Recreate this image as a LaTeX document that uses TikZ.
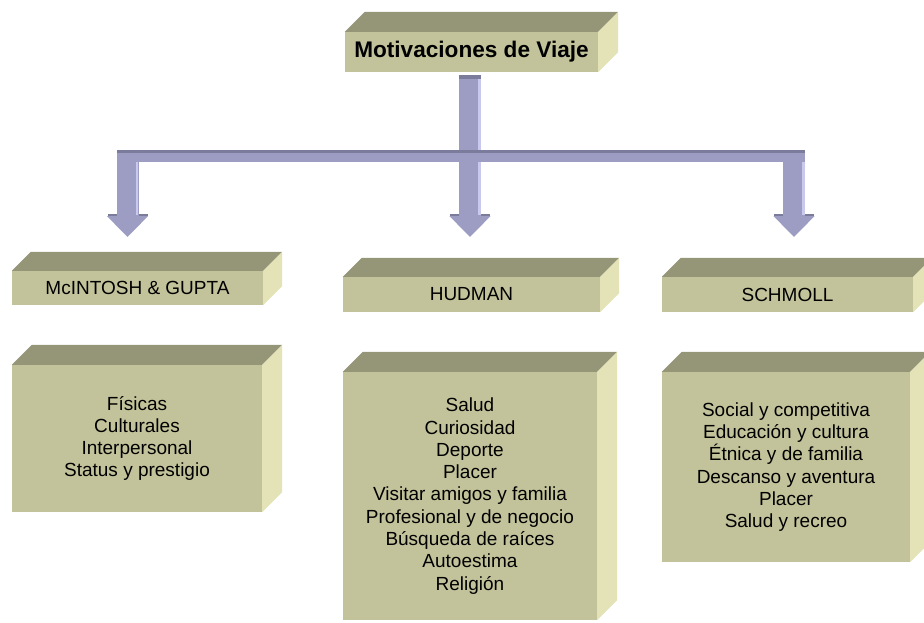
\documentclass[tikz,border=0pt]{standalone}
\usepackage{fontspec}
\setmainfont{Liberation Sans}
\usepackage{tikz}
\usetikzlibrary{calc,arrows.meta}
\definecolor{olivafrente}{HTML}{C3C39B}
\definecolor{olivatapa}{HTML}{959578}
\definecolor{olivalado}{HTML}{E3E3B7}
\definecolor{lila}{HTML}{9D9DC3}
\definecolor{lilaosc}{HTML}{7B7B9C}
\definecolor{lilaclaro}{HTML}{C9C9F0}
\tikzset{caja/.style={
  fill=olivafrente,
  rectangle,
  inner sep=0pt,
  align=center,
  font=\fontsize{19}{22.3}\selectfont}}
\tikzset{tapa/.style={
  fill=olivatapa}}
\tikzset{lado/.style={
  fill=olivalado}}

\begin{document}
\begin{tikzpicture}[
  x=1pt,y=-1pt,
  tallo/.style={
    draw=lila,
    line width=22pt},
  barra/.style={
    draw=lila,
    line width=12pt},
  flecha/.style={
    draw=lila,
    line width=22pt,
    -{Triangle[width=40pt,length=21pt]}}
]
  \useasboundingbox (0,0) rectangle (924,623);

  %%%% Boxes %%%%
  \node[caja,minimum width=253pt,minimum height=40pt,
    font=\fontsize{22.6}{26}\selectfont\bfseries] (titulo) at (471.5,52) {Motivaciones de Viaje};

  %% Headers
  \node[caja,minimum width=251pt,minimum height=34pt] (mcintosh) at (137.5,288) {McINTOSH \& GUPTA};
  \node[caja,minimum width=257pt,minimum height=35pt] (hudman) at (471.5,294.5) {HUDMAN};
  \node[caja,minimum width=251pt,minimum height=35pt] (schmoll) at (787.5,294.5) {SCHMOLL};

  %% Lists
  \node[caja,minimum width=250pt,minimum height=147pt] (lista1) at (137,438.5)
    {Físicas\\Culturales\\Interpersonal\\Status y prestigio};
  \node[caja,minimum width=254pt,minimum height=248pt] (lista2) at (470,496)
    {Salud\\Curiosidad\\Deporte\\Placer\\Visitar amigos y familia\\Profesional y de negocio\\Búsqueda de raíces\\Autoestima\\Religión};
  \node[caja,minimum width=248pt,minimum height=190pt] (lista3) at (786,467)
    {Social y competitiva\\Educación y cultura\\Étnica y de familia\\Descanso y aventura\\Placer\\Salud y recreo};

  %% Top and side faces
  \foreach \n/\d in {titulo/20,mcintosh/19,hudman/19,schmoll/19,lista1/20,lista2/20,lista3/20}{
    \fill[tapa] (\n.north west) -- ++(\d,-\d) -- ($(\n.north east)+(\d,-\d)$) -- (\n.north east) -- cycle;
    \fill[lado] (\n.north east) -- ++(\d,-\d) -- ($(\n.south east)+(\d,-\d)$) -- (\n.south east) -- cycle;
  }

  %%%% Arrows %%%%
  \coordinate (arranque) at (470,75);
  \coordinate (cruce) at (470,156);
  \coordinate (barra-izq) at (117,156);
  \coordinate (barra-der) at (805,156);
  \foreach \i/\x in {1/127.5,2/470,3/794}{
    \coordinate (codo-\i) at (\x,150);
    \coordinate (punta-\i) at (\x,237);
  }

  \draw[tallo] (arranque) -- (cruce);
  %% Dark rim of the heads
  \foreach \i in {1,2,3}{
    \fill[lilaosc] ($(punta-\i)+(-20,-23)$) rectangle ($(punta-\i)+(20,-21)$);
  }
  \draw[barra] (barra-izq) -- (barra-der);
  \foreach \i in {1,2,3}{
    \draw[flecha] (codo-\i) -- (punta-\i);
  }
  %% Bevels
  \fill[lilaosc] ($(barra-izq)+(0,-6)$) rectangle ($(barra-der)+(0,-3)$);
  \fill[lilaosc] ($(arranque)+(-11,0)$) rectangle ($(arranque)+(11,4)$);
  \foreach \i in {1,2,3}{
    \draw[lilaclaro,line width=2.5pt] ($(codo-\i)+(9.5,12)$) -- ($(punta-\i)+(9.5,-22)$);
  }
  \draw[lilaclaro,line width=2.5pt] ($(arranque)+(9.5,4)$) -- ($(cruce)+(9.5,-6)$);

\end{tikzpicture}
\end{document}
